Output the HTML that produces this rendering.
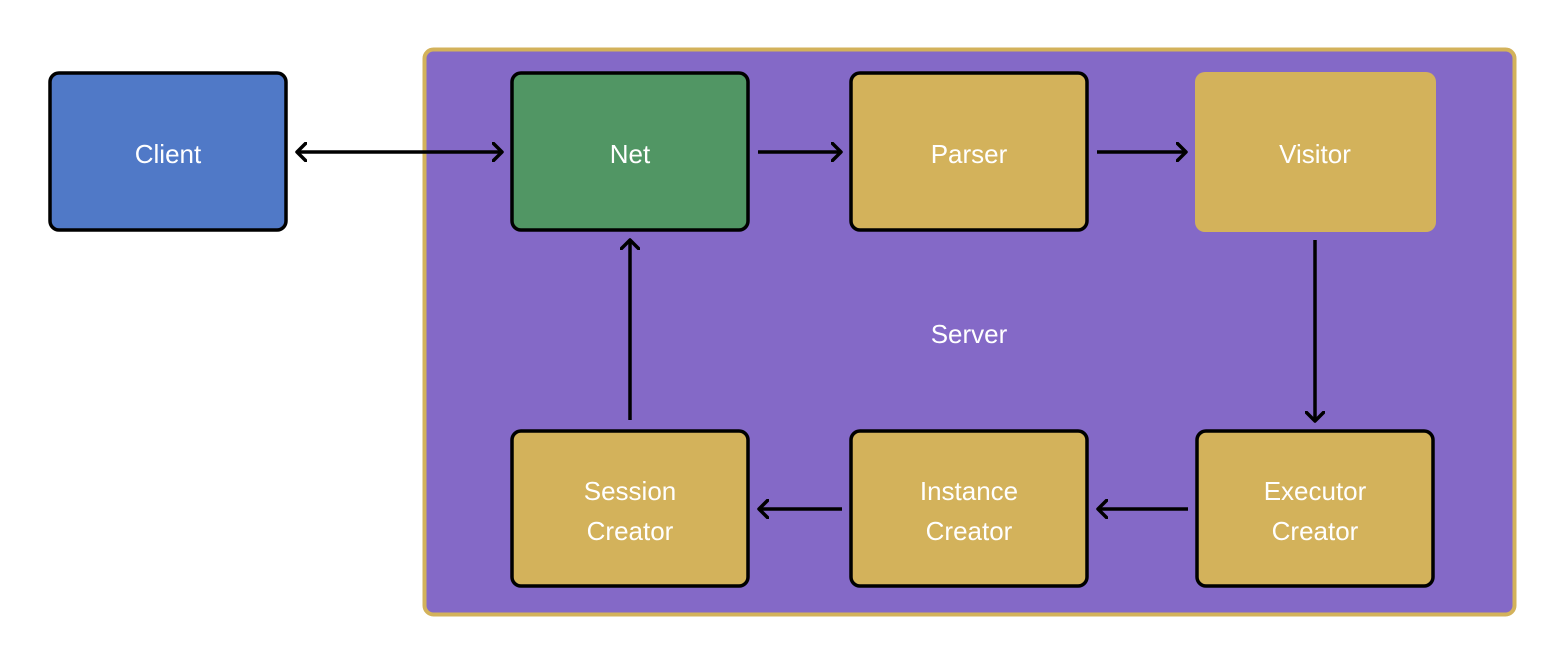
<!DOCTYPE html>
<html><head><style>html,body{margin:0;padding:0;background:#fff}svg{display:block}text{font-family:"Liberation Sans",sans-serif;font-size:26px;fill:#fff;text-anchor:middle}</style></head><body>
<svg width="1566" height="666" viewBox="0 0 1566 666" xmlns="http://www.w3.org/2000/svg">
<defs><marker id="a" markerWidth="12" markerHeight="20" refX="10" refY="10" orient="auto-start-reverse" markerUnits="userSpaceOnUse"><path d="M1,1 L10,10 L1,19" fill="none" stroke="#000" stroke-width="3.5" stroke-linecap="round" stroke-linejoin="round"/></marker></defs>
<rect x="424.5" y="49.5" width="1090" height="565" rx="9" fill="#8469C7" stroke="#D3B25B" stroke-width="4"/>
<g stroke="#000" stroke-width="3.5">
<rect x="50" y="73" width="236" height="157" rx="9" fill="#5079C7"/>
<rect x="512" y="73" width="236" height="157" rx="9" fill="#519664"/>
<rect x="851" y="73" width="236" height="157" rx="9" fill="#D3B25B"/>
<rect x="512" y="431" width="236" height="155" rx="9" fill="#D3B25B"/>
<rect x="851" y="431" width="236" height="155" rx="9" fill="#D3B25B"/>
<rect x="1197" y="431" width="236" height="155" rx="9" fill="#D3B25B"/>
</g>
<rect x="1195" y="72" width="241" height="160" rx="10" fill="#D3B25B"/>
<g stroke="#000" stroke-width="3.5" fill="none">
<line x1="297" y1="152" x2="502" y2="152" marker-start="url(#a)" marker-end="url(#a)"/>
<line x1="758" y1="152" x2="841" y2="152" marker-end="url(#a)"/>
<line x1="1097" y1="152" x2="1186" y2="152" marker-end="url(#a)"/>
<line x1="1315" y1="240" x2="1315" y2="421" marker-end="url(#a)"/>
<line x1="1188" y1="509" x2="1098" y2="509" marker-end="url(#a)"/>
<line x1="842" y1="509" x2="759" y2="509" marker-end="url(#a)"/>
<line x1="630" y1="420" x2="630" y2="240" marker-end="url(#a)"/>
</g>
<text x="168" y="163">Client</text>
<text x="630" y="163">Net</text>
<text x="969" y="163">Parser</text>
<text x="1315" y="163">Visitor</text>
<text x="969" y="343">Server</text>
<text x="630" y="500">Session</text><text x="630" y="540">Creator</text>
<text x="969" y="500">Instance</text><text x="969" y="540">Creator</text>
<text x="1315" y="500">Executor</text><text x="1315" y="540">Creator</text>
</svg>
</body></html>
